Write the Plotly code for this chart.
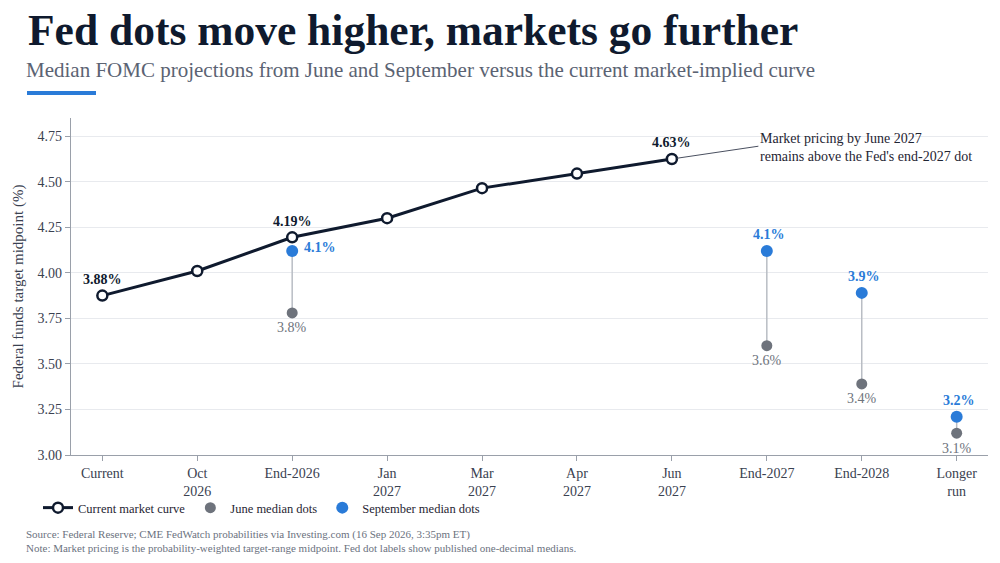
import plotly.graph_objects as go

# categories along the x axis
categories = ["Current", "Oct<br>2026", "End-2026", "Jan<br>2027", "Mar<br>2027",
              "Apr<br>2027", "Jun<br>2027", "End-2027", "End-2028", "Longer<br>run"]

# current market-implied curve (first 7 categories)
market_x = categories[:7]
market_vals = [3.875, 4.01, 4.195, 4.30, 4.465, 4.545, 4.625]
market_labels = ["3.88%", "", "4.19%", "", "", "", "4.63%"]

# FOMC median dots
dot_x = ["End-2026", "End-2027", "End-2028", "Longer<br>run"]
june_vals = [3.78, 3.60, 3.39, 3.12]
sept_vals = [4.12, 4.12, 3.89, 3.21]
june_labels = ["3.8%", "3.6%", "3.4%", "3.1%"]
sept_labels = ["4.1%", "4.1%", "3.9%", "3.2%"]

y_ticks = [3.00, 3.25, 3.50, 3.75, 4.00, 4.25, 4.50, 4.75]

FONT = "Liberation Serif"
NAVY = "#0f1a2e"
BLUE = "#2a7bd8"
GRAY = "#6e737c"
TXT = "#3a4150"

W, H = 1000, 563
ML, MR, MT, MB = 71, 12, 118, 108
PW, PH = W - ML - MR, H - MT - MB


def px(x):
    return (x - ML) / PW


def py(y):
    return (H - MB - y) / PH


fig = go.Figure()

# connectors between june and september dots
for xv, j, s in zip(dot_x, june_vals, sept_vals):
    fig.add_trace(go.Scatter(x=[xv, xv], y=[j, s], mode="lines",
                             line=dict(color="#b9bdc4", width=1.5),
                             showlegend=False, hoverinfo="skip"))

fig.add_trace(go.Scatter(x=market_x, y=market_vals, mode="lines+markers",
                         name="Current market curve",
                         line=dict(color=NAVY, width=3),
                         marker=dict(size=10, color="white", line=dict(color=NAVY, width=2.5))))

fig.add_trace(go.Scatter(x=dot_x, y=june_vals, mode="markers", name="June median dots",
                         marker=dict(size=11, color=GRAY)))

fig.add_trace(go.Scatter(x=dot_x, y=sept_vals, mode="markers", name="September median dots",
                         marker=dict(size=12, color=BLUE)))

# value labels
for xv, yv, lab in zip(market_x, market_vals, market_labels):
    if lab:
        fig.add_annotation(x=xv, y=yv, text="<b>" + lab + "</b>", showarrow=False,
                           yshift=16, font=dict(family=FONT, size=14, color=NAVY))

for i, (xv, yv, lab) in enumerate(zip(dot_x, sept_vals, sept_labels)):
    if i == 0:
        fig.add_annotation(x=xv, y=yv, text="<b>" + lab + "</b>", showarrow=False,
                           xanchor="left", xshift=10, yshift=3,
                           font=dict(family=FONT, size=14, color=BLUE))
    else:
        fig.add_annotation(x=xv, y=yv, text="<b>" + lab + "</b>", showarrow=False,
                           yshift=16, xshift=2, font=dict(family=FONT, size=14, color=BLUE))

for xv, yv, lab in zip(dot_x, june_vals, june_labels):
    fig.add_annotation(x=xv, y=yv, text=lab, showarrow=False,
                       yshift=-15, font=dict(family=FONT, size=14, color=GRAY))

# callout
fig.add_annotation(x="Jun<br>2027", y=market_vals[6], ax=88, ay=-13, axref="pixel", ayref="pixel",
                   text="", showarrow=True, arrowhead=0, arrowwidth=1, arrowcolor="#4a5060",
                   standoff=5)
fig.add_annotation(x=px(758), y=py(129), xref="paper", yref="paper", xanchor="left", yanchor="top",
                   align="left", showarrow=False,
                   text="Market pricing by June 2027<br>remains above the Fed's end-2027 dot",
                   font=dict(family=FONT, size=14, color="#1f2533"))

# headline block
fig.update_layout(
    title=dict(text="<b>Fed dots move higher, markets go further</b>", x=0.028, xanchor="left",
               y=0.975, yanchor="top", font=dict(family=FONT, size=43.5, color=NAVY)),
)
fig.add_annotation(x=px(24), y=py(70), xref="paper", yref="paper", xanchor="left", yanchor="middle",
                   showarrow=False,
                   text="Median FOMC projections from June and September versus the current market-implied curve",
                   font=dict(family=FONT, size=21, color="#5b6373"))
fig.add_shape(type="rect", xref="paper", yref="paper", x0=px(27), x1=px(96), y0=py(95), y1=py(91),
              fillcolor=BLUE, line=dict(width=0))

fig.add_annotation(x=px(24), y=py(526), xref="paper", yref="paper", xanchor="left", yanchor="top",
                   showarrow=False, align="left",
                   text="Source: Federal Reserve; CME FedWatch probabilities via Investing.com (16 Sep 2026, 3:35pm ET)"
                        "<br>Note: Market pricing is the probability-weighted target-range midpoint. Fed dot labels show published one-decimal medians.",
                   font=dict(family=FONT, size=11, color="#6b7280"))

fig.update_xaxes(categoryorder="array", categoryarray=categories, range=[-0.33, 9.33],
                 automargin=False,
                 showline=True, linecolor="#9aa0aa", linewidth=1.2,
                 ticks="outside", ticklen=5, tickcolor="#9aa0aa",
                 tickfont=dict(family=FONT, size=14, color=TXT), showgrid=False)
fig.update_yaxes(range=[3.0, 4.85], tickvals=y_ticks, tickformat=".2f",
                 automargin=False,
                 showline=True, linecolor="#9aa0aa", linewidth=1.2,
                 ticks="outside", ticklen=5, tickcolor="#9aa0aa",
                 gridcolor="#e8eaee", gridwidth=1, zeroline=False,
                 tickfont=dict(family=FONT, size=14, color=TXT),
                 title=dict(text="Federal funds target midpoint (%)",
                            font=dict(family=FONT, size=15, color=TXT), standoff=10))

fig.update_layout(
    width=W, height=H,
    margin=dict(l=ML, r=MR, t=MT, b=MB),
    paper_bgcolor="white", plot_bgcolor="white",
    font=dict(family=FONT, color=TXT),
    legend=dict(orientation="h", x=px(38), y=py(493), xanchor="left", yanchor="top",
                bgcolor="rgba(0,0,0,0)",
                font=dict(family=FONT, size=12.5, color="#1f2533"),
                traceorder="normal"),
)

fig.write_html("out.html", config={"displayModeBar": False},
               post_script="document.body.style.margin='0px';")
